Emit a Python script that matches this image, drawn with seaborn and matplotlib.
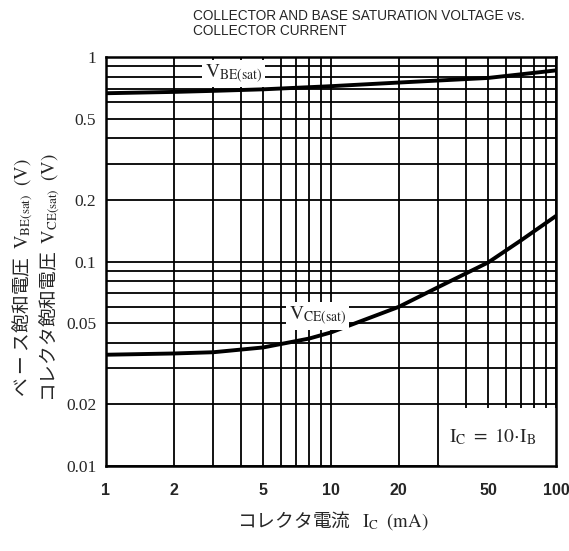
import matplotlib
matplotlib.use('Agg')
import matplotlib.pyplot as plt
from matplotlib.patches import Rectangle
from matplotlib.ticker import LogLocator, FixedLocator, NullFormatter
import seaborn as sns
import pandas as pd

# values (I_C in mA, voltages in V)
ic_vbe = [1, 2, 3, 5, 10, 20, 50, 100]
vbe_sat = [0.665, 0.675, 0.683, 0.695, 0.72, 0.75, 0.79, 0.86]
ic_vce = [1, 2, 3, 5, 8, 10, 20, 30, 50, 70, 100]
vce_sat = [0.035, 0.0355, 0.036, 0.038, 0.042, 0.045, 0.060, 0.075, 0.099, 0.127, 0.167]

x_ticks = [1, 2, 5, 10, 20, 50, 100]
x_labels = ['1', '2', '5', '10', '20', '50', '100']
y_ticks = [0.01, 0.02, 0.05, 0.1, 0.2, 0.5, 1]
y_labels = ['0.01', '0.02', '0.05', '0.1', '0.2', '0.5', '1']

sns.set_style('white')
plt.rcParams['font.family'] = ['Noto Sans CJK JP', 'DejaVu Sans']
plt.rcParams['mathtext.fontset'] = 'stix'

fig = plt.figure(figsize=(5.69, 5.51), dpi=100)
ax = fig.add_axes([106 / 569, 1 - 466 / 551, 450 / 569, 409 / 551])

df_be = pd.DataFrame({'ic': ic_vbe, 'v': vbe_sat})
df_ce = pd.DataFrame({'ic': ic_vce, 'v': vce_sat})
sns.lineplot(data=df_be, x='ic', y='v', ax=ax, color='black', lw=2.8, zorder=3)
sns.lineplot(data=df_ce, x='ic', y='v', ax=ax, color='black', lw=2.8, zorder=3)

ax.set_xscale('log')
ax.set_yscale('log')
ax.set_xlim(1, 100)
ax.set_ylim(0.01, 1)

ax.xaxis.set_major_locator(FixedLocator(x_ticks))
ax.yaxis.set_major_locator(FixedLocator(y_ticks))
ax.xaxis.set_minor_locator(LogLocator(base=10, subs=range(2, 10)))
ax.yaxis.set_minor_locator(LogLocator(base=10, subs=range(2, 10)))
ax.xaxis.set_minor_formatter(NullFormatter())
ax.yaxis.set_minor_formatter(NullFormatter())
ax.set_xticklabels(x_labels, family='Liberation Sans', fontweight='bold', fontsize=11.5)
ax.set_yticklabels(y_labels, family='Liberation Serif', fontsize=12.5)
ax.tick_params(axis='both', which='both', length=0)
ax.tick_params(axis='x', pad=12)
ax.tick_params(axis='y', pad=7)

ax.set_axisbelow(True)
ax.grid(which='both', color='black', lw=1.3)
for s in ax.spines.values():
    s.set_color('black')
    s.set_linewidth(1.8)
ax.set_xlabel('')
ax.set_ylabel('')

# white panel behind the condition note
ax.add_patch(Rectangle((0.742, 0), 0.258, 0.142, transform=ax.transAxes,
                       facecolor='white', edgecolor='none', zorder=1))
ax.text(0.86, 0.072, r'$\mathrm{I_C\ =\ 10{\cdot}I_B}$', transform=ax.transAxes,
        ha='center', va='center', fontsize=14, zorder=4)

ax.text(3.7, 0.83, r'$\mathrm{V_{BE(sat)}}$', ha='center', va='center', fontsize=14,
        zorder=4, bbox=dict(facecolor='white', edgecolor='none', pad=2))
ax.text(8.7, 0.054, r'$\mathrm{V_{CE(sat)}}$', ha='center', va='center', fontsize=14,
        zorder=4, bbox=dict(facecolor='white', edgecolor='none', pad=2))

fig.text(193 / 569, 1 - 9 / 551,
         'COLLECTOR AND BASE SATURATION VOLTAGE vs.\nCOLLECTOR CURRENT',
         ha='left', va='top', family='Liberation Sans', fontsize=9.8, linespacing=1.05)

fig.text(36 / 569, 1 - 278 / 551,
         'ベ ー ス飽和電圧  $\\mathrm{V_{BE(sat)}}$  $\\mathrm{(V)}$\n'
         'コレクタ飽和電圧  $\\mathrm{V_{CE(sat)}}$  $\\mathrm{(V)}$',
         rotation=90, ha='center', va='center', multialignment='center',
         fontsize=13.5, linespacing=1.12)

fig.text(333 / 569, 1 - 521 / 551, 'コレクタ電流   $\\mathrm{I_C}$  $\\mathrm{(mA)}$',
         ha='center', va='center', fontsize=13.5)

fig.savefig('out.png', dpi=100)
